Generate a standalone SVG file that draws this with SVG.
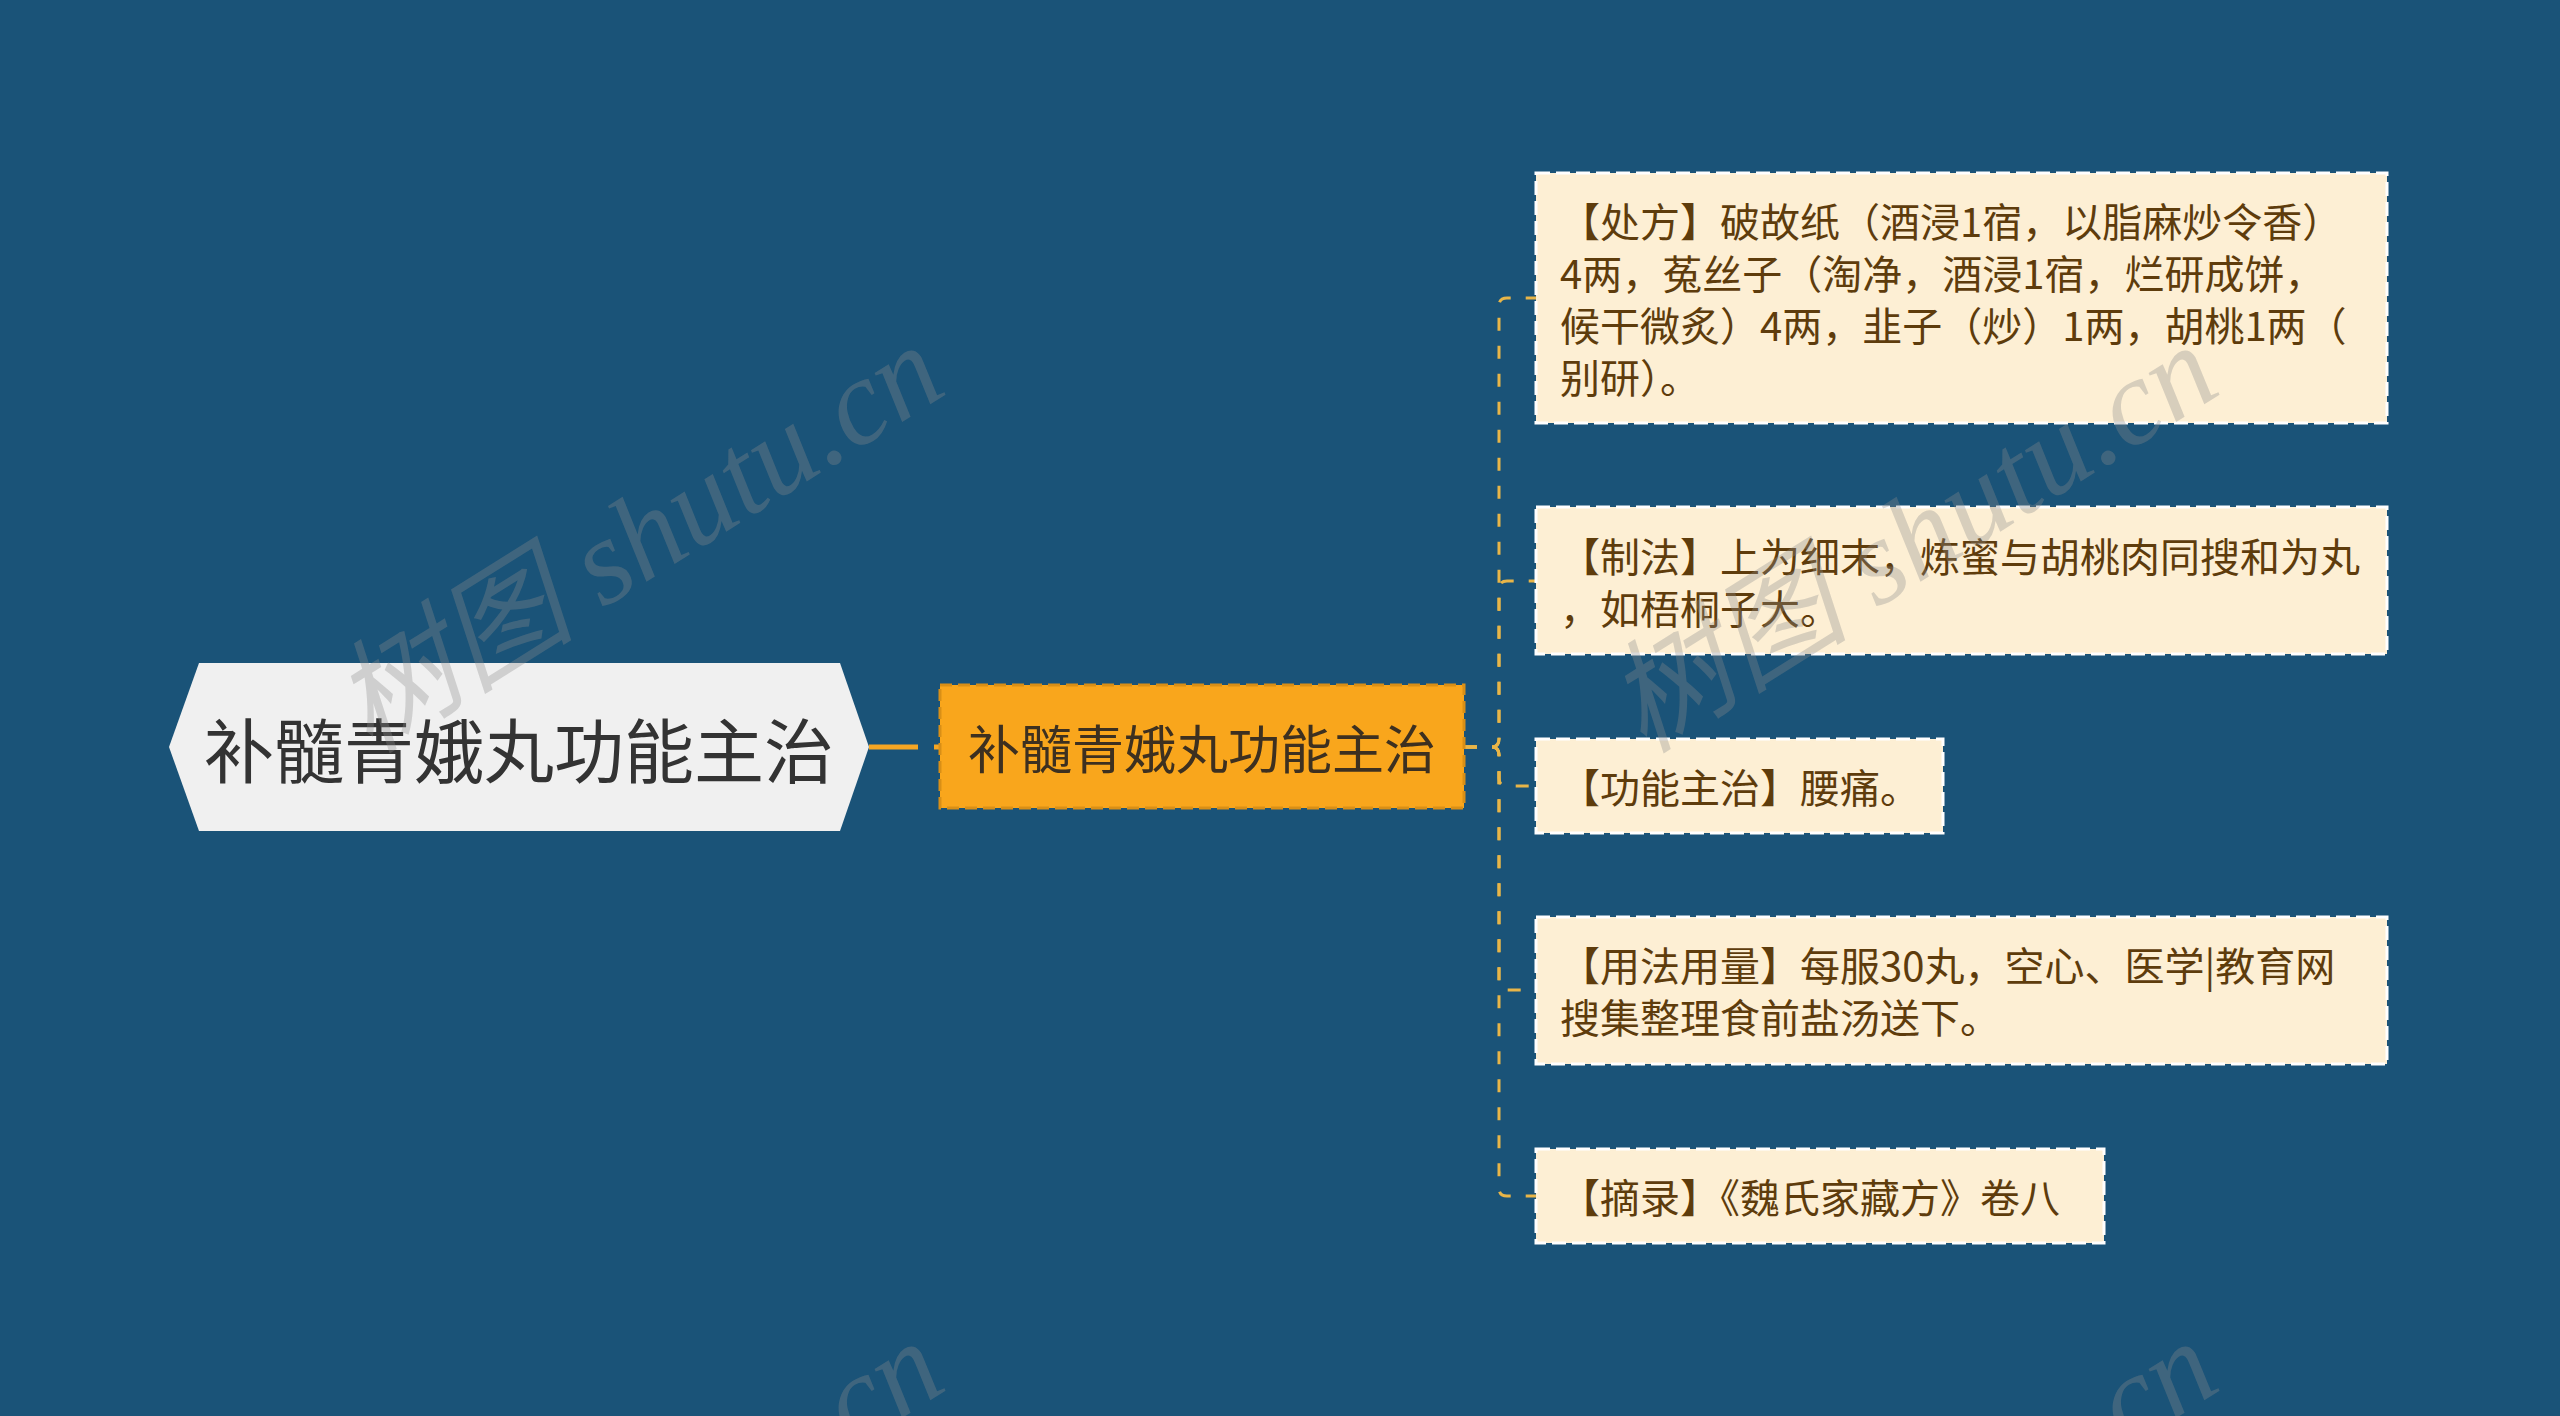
<svg xmlns="http://www.w3.org/2000/svg" width="2560" height="1416" viewBox="0 0 2560 1416">
<style>
.bg{fill:#1a5378}
.root-shape{fill:#f0f0f0}
.root-text{font-family:"Noto Sans CJK SC","Noto Sans",sans-serif;font-size:70px;fill:#333333;text-anchor:middle;dominant-baseline:central}
.main-box{fill:#f9a61c;stroke:#d98f16;stroke-width:3;stroke-dasharray:12 6}
.main-text{font-family:"Noto Sans CJK SC","Noto Sans",sans-serif;font-size:52px;fill:#3d3020;text-anchor:middle;dominant-baseline:central}
.leaf-box{fill:#fdefd4;stroke:#ffffff;stroke-width:3;stroke-dasharray:14 6}
.leaf-text{font-family:"Noto Sans CJK SC","Noto Sans",sans-serif;font-size:40px;fill:#5e3c0c;dominant-baseline:central}
.conn{fill:none;stroke:#e8b548;stroke-width:3;stroke-dasharray:13 15}
.conn-root{fill:none;stroke:#f5a623;stroke-width:5;stroke-dasharray:49 16}
.wm{font-family:"Liberation Serif","Noto Sans CJK SC",serif;font-style:italic;font-size:122px;fill:#8c8c8c;fill-opacity:0.33;text-anchor:middle;dominant-baseline:central}
</style>
<rect class="bg" x="0" y="0" width="2560" height="1416"/>
<g id="connectors">
<line class="conn-root" x1="869" y1="747" x2="940" y2="747"/>
<path class="conn" d="M1464 747 H1491 Q1499 747 1499 739 V306 Q1499 298 1507 298 H1536"/>
<path class="conn" d="M1464 747 H1491 Q1499 747 1499 739 V589 Q1499 581 1507 581 H1536"/>
<path class="conn" d="M1464 747 H1491 Q1499 747 1499 755 V778 Q1499 786 1507 786 H1536"/>
<path class="conn" d="M1464 747 H1491 Q1499 747 1499 755 V982 Q1499 990 1507 990 H1536"/>
<path class="conn" d="M1464 747 H1491 Q1499 747 1499 755 V1188 Q1499 1196 1507 1196 H1536"/>
</g>
<g id="root">
<polygon class="root-shape" points="169,747 199,663 840,663 869,747 840,831 199,831"/>
<text class="root-text" x="519" y="747">补髓青娥丸功能主治</text>
</g>
<g id="main">
<rect class="main-box" x="940" y="685" width="524" height="123"/>
<text class="main-text" x="1202" y="746">补髓青娥丸功能主治</text>
</g>
<g id="leaf1">
<rect class="leaf-box" x="1536" y="173" width="851" height="250"/>
<text class="leaf-text" x="1560" y="220">【处方】破故纸（酒浸1宿，以脂麻炒令香）</text>
<text class="leaf-text" x="1560" y="272">4两，菟丝子（淘净，酒浸1宿，烂研成饼，</text>
<text class="leaf-text" x="1560" y="324">候干微炙）4两，韭子（炒）1两，胡桃1两（</text>
<text class="leaf-text" x="1560" y="376">别研）。</text>
</g>
<g id="leaf2">
<rect class="leaf-box" x="1536" y="507" width="851" height="147"/>
<text class="leaf-text" x="1560" y="555">【制法】上为细末，炼蜜与胡桃肉同搜和为丸</text>
<text class="leaf-text" x="1560" y="607">，如梧桐子大。</text>
</g>
<g id="leaf3">
<rect class="leaf-box" x="1536" y="739" width="407" height="94"/>
<text class="leaf-text" x="1560" y="786">【功能主治】腰痛。</text>
</g>
<g id="leaf4">
<rect class="leaf-box" x="1536" y="917" width="851" height="147"/>
<text class="leaf-text" x="1560" y="964">【用法用量】每服30丸，空心、医学|教育网</text>
<text class="leaf-text" x="1560" y="1016">搜集整理食前盐汤送下。</text>
</g>
<g id="leaf5">
<rect class="leaf-box" x="1536" y="1149" width="568" height="94"/>
<text class="leaf-text" x="1560" y="1196">【摘录】《魏氏家藏方》卷八</text>
</g>
<g id="watermarks">
<text class="wm" transform="translate(638,538) rotate(-32)">树图 shutu.cn</text>
<text class="wm" transform="translate(1912,538) rotate(-32)">树图 shutu.cn</text>
<text class="wm" transform="translate(638,1534) rotate(-32)">树图 shutu.cn</text>
<text class="wm" transform="translate(1912,1534) rotate(-32)">树图 shutu.cn</text>
</g>
</svg>
